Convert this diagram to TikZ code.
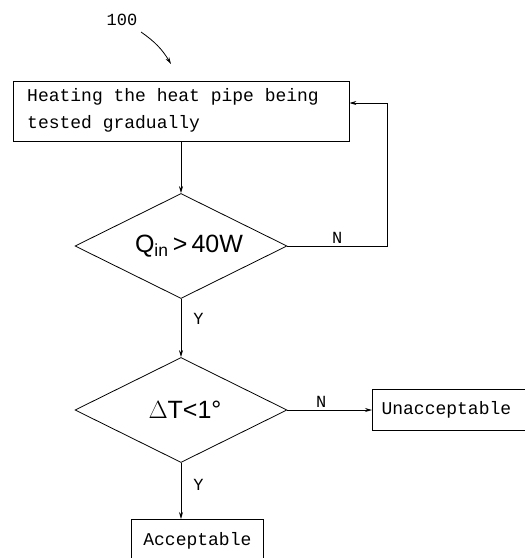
\documentclass[tikz,border=0pt]{standalone}
\usepackage{fontspec}
\setmonofont{Liberation Mono}
\newfontfamily\diafont{Liberation Sans}
\usetikzlibrary{arrows.meta,shapes.geometric}

\begin{document}
\begin{tikzpicture}[
  x=1pt, y=-1pt,
  every node/.style={font=\ttfamily\fontsize{18}{27}\selectfont},
  stepbox/.style={draw, thick, rectangle, inner sep=0pt},
  decision/.style={draw, thick, diamond, aspect=2, minimum width=212pt, minimum height=105pt,
    inner sep=0pt, font=\diafont\fontsize{25}{28}\selectfont},
  lbl/.style={font=\ttfamily\fontsize{17}{17}\selectfont, inner sep=2pt},
  flow/.style={draw, thick, -{Stealth[length=7pt,width=4pt]}}
]
\useasboundingbox (0,0) rectangle (525,558);
\clip (0,0) rectangle (525,558);

% steps
\node[stepbox, minimum width=336pt, minimum height=60pt] (heat) at (181,111) {};
\node[anchor=north west, align=left, inner sep=0pt] at (27,88)
  {Heating the heat pipe being\\tested gradually};
\node[decision] (power) at (181,246) {\hspace*{16pt}Q\textsubscript{in}\,>\,40W};
\node[decision] (temp) at (181,410) {\hspace*{8pt}$\Delta$T<1°};
\node[stepbox, minimum width=160pt, minimum height=41pt, anchor=west] (bad) at (372,410)
  {\hspace*{-12pt}Unacceptable};
\node[stepbox, minimum width=132pt, minimum height=42pt, anchor=north west] (good) at (131,519)
  {Acceptable};

% reference numeral
\node[lbl] (num) at (122,20) {100};
\draw[thick, -{Stealth[length=7pt,width=4pt]}] (141,32) to[bend left=12] (171,64);

% connectors
\coordinate (loop) at (387,103);
\draw[flow] (heat.south) -- (power.north);
\draw[flow] (power.east) -- node[lbl, above] {N} (power.east -| loop) -- (loop) -- (loop -| heat.east);
\draw[flow] (power.south) -- node[lbl, right=10pt, pos=0.35] {Y} (temp.north);
\draw[flow] (temp.east) -- node[lbl, above, pos=0.4] {N} (bad.west);
\draw[flow] (temp.south) -- node[lbl, right=10pt, pos=0.4] {Y} (temp.south |- good.north);
\end{tikzpicture}
\end{document}
